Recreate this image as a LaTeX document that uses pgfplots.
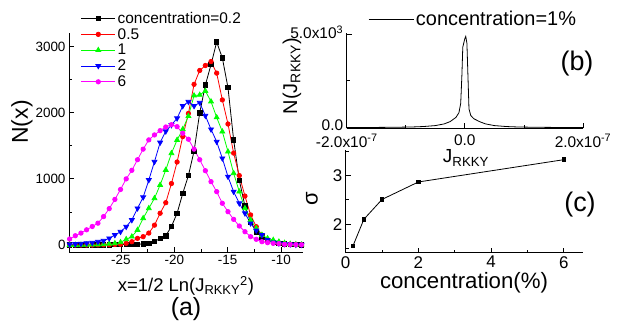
\documentclass[border=0pt]{standalone}
\usepackage{fontspec}
\setmainfont{Liberation Sans}
\usepackage{pgfplots}
\usepackage{pgfplotstable}
\pgfplotsset{compat=1.18}
\definecolor{cBlack}{RGB}{0,0,0}
\definecolor{cRed}{RGB}{255,0,0}
\definecolor{cGreen}{RGB}{0,255,0}
\definecolor{cBlue}{RGB}{0,0,255}
\definecolor{cMag}{RGB}{255,0,255}

\pgfplotstableread{
x c02 c05 c1 c2 c6
-29.81 0 0 0 10 90
-29.28 0 0 0 15 140
-28.75 0 0 2 20 180
-28.22 0 0 3 28 230
-27.69 0 0 5 35 280
-27.16 0 2 8 50 330
-26.63 2 3 10 65 430
-26.10 3 5 18 101 550
-25.57 5 8 25 151 690
-25.04 6 12 40 201 840
-24.51 8 25 86 277 1000
-23.98 10 50 126 378 1130
-23.45 12 100 227 555 1290
-22.92 15 126 404 722 1450
-22.39 25 180 555 983 1590
-21.86 50 300 706 1260 1665
-21.33 100 480 908 1550 1730
-20.80 140 640 1135 1720 1785
-20.27 280 930 1387 1815 1820
-19.74 480 1255 1588 1917 1790
-19.21 780 1640 1750 2103 1690
-18.68 1050 1990 1950 2168 1600
-18.15 1420 2430 2260 2103 1450
-17.62 2000 2640 2270 2153 1290
-17.09 2420 2715 2330 1956 1124
-16.56 2730 2775 2170 1750 958
-16.03 3070 2600 1930 1563 807
-15.50 2830 2195 1715 1311 631
-14.97 2380 1830 1412 1034 504
-14.44 1590 1390 1085 807 388
-13.91 980 1050 807 631 287
-13.38 590 740 555 480 201
-12.85 350 455 378 328 126
-12.32 200 277 252 220 86
-11.79 125 150 151 151 50
-11.26 70 80 100 75 35
-10.73 40 45 75 40 25
-10.20 25 25 50 25 20
-9.67 15 15 30 15 10
-9.14 10 10 15 10 8
-8.61 5 5 10 5 5
-8.08 3 3 5 3 3
}\dataA

% panel (b): x in units of 1e-7
\pgfplotstableread{
x n
-2.00 5
-1.60 10
-1.20 20
-0.90 35
-0.70 60
-0.50 110
-0.35 200
-0.25 320
-0.15 550
-0.10 800
-0.07 1300
-0.05 2800
-0.035 4300
0.00 4750
0.015 4870
0.035 4500
0.05 3000
0.07 1000
0.10 650
0.15 480
0.25 320
0.35 200
0.50 110
0.70 60
0.90 35
1.20 20
1.60 10
2.00 5
}\dataB

\pgfplotstableread{
x s
0.2 1.55
0.5 2.10
1.0 2.51
2.0 2.87
6.0 3.33
}\dataC

\pgfplotsset{
  every axis/.append style={
    scale only axis,
    axis x line*=bottom, axis y line*=left,
    tick align=inside,
    major tick length=5bp, minor tick length=3bp,
    axis line style={line width=0.8bp},
    every tick/.style={line width=0.8bp, black},
    /pgf/number format/assume math mode=true,
    /pgf/number format/1000 sep={},
  }
}
\newcommand{\fs}[1]{\fontsize{#1}{#1}\selectfont}

\begin{document}
\begin{tikzpicture}
\path[use as bounding box] (0bp,0bp) rectangle (620bp,322bp);

% ---------- (a)
\begin{axis}[at={(69bp,70bp)}, anchor=south west,
  width=234bp, height=219bp,
  xmin=-29.87, xmax=-7.94, ymin=-106, ymax=3207,
  xtick={-25,-20,-15,-10}, ytick={0,1000,2000,3000},
  minor x tick num=1, minor y tick num=1,
  tick label style={font=\fs{13.5}},
  legend style={at={(0.05,1.106)}, anchor=north west, draw=none, fill=none,
    font=\fs{15.5}, row sep=-0.4bp, inner sep=0pt, cells={anchor=west}},
  legend image code/.code={\draw[mark repeat=2,mark phase=2] plot coordinates {(0bp,0bp) (17bp,0bp) (34bp,0bp)};},
  every axis plot/.append style={line width=0.8bp},
]
\addplot[cBlack, mark=square*, mark size=2.2bp] table[x=x,y=c02] {\dataA};
\addlegendentry{concentration=0.2}
\addplot[cRed, mark=*, mark size=2.2bp] table[x=x,y=c05] {\dataA};
\addlegendentry{0.5}
\addplot[cGreen, mark=triangle*, mark size=2.8bp] table[x=x,y=c1] {\dataA};
\addlegendentry{1}
\addplot[cBlue, mark=triangle*, mark size=2.8bp, mark options={rotate=180}] table[x=x,y=c2] {\dataA};
\addlegendentry{2}
\addplot[cMag, mark=*, mark size=2.2bp] table[x=x,y=c6] {\dataA};
\addlegendentry{6}
\end{axis}

% ---------- (b)
\begin{axis}[at={(346.7bp,193.5bp)}, anchor=south west,
  width=236.3bp, height=95.5bp,
  xmin=-2, xmax=2, ymin=-45, ymax=5050,
  xtick={-2,0,2}, xticklabels={-2.0x10\textsuperscript{-7},0.0,2.0x10\textsuperscript{-7}},
  minor xtick={-1,1},
  ytick={0,5000}, yticklabels={0.0,5.0x10\textsuperscript{3}},
  minor ytick={2500},
  tick label style={font=\fs{15.5}},
  xticklabel style={yshift=-2.5bp},
  yticklabel style={yshift=2bp},
  legend style={at={(0.09,1.25)}, anchor=north west, draw=none, fill=none,
    font=\fs{20}, inner sep=0pt},
  legend image code/.code={\draw (0bp,0bp) -- (45bp,0bp);},
]
\addplot[black, line width=0.8bp] table[x=x,y=n] {\dataB};
\addlegendentry{concentration=1\%}
\end{axis}

% ---------- (c)
\begin{axis}[at={(345.7bp,69.3bp)}, anchor=south west,
  width=237bp, height=102.7bp,
  xmin=0, xmax=6.52, ymin=1.41, ymax=3.53,
  xtick={0,2,4,6}, minor x tick num=1,
  ytick={2,3}, minor ytick={1.5,2.5,3.5},
  tick label style={font=\fs{17}},
]
\addplot[black, line width=0.8bp, mark=square*, mark size=1.8bp] table[x=x,y=s] {\dataC};
\end{axis}

% ---------- labels
\node[anchor=base, font=\fs{18.5}] at (186bp,30.3bp) {x=1/2 Ln(J\textsubscript{RKKY}\textsuperscript{2})};
\node[anchor=base, font=\fs{25}] at (186bp,7bp) {(a)};
\node[rotate=90, font=\fs{23}] at (22bp,200bp) {N(x)};
\node[rotate=90, font=\fs{20}] at (292bp,246bp) {N(J\textsubscript{RKKY})};
\node[font=\fs{19}] at (466bp,164bp) {J\textsubscript{RKKY}};
\node[anchor=base, font=\fs{27}] at (577bp,251bp) {(b)};
\node[anchor=base, font=\fs{27}] at (580bp,110.3bp) {(c)};
\node[anchor=base, font=\fs{22.3}] at (464bp,34bp) {concentration(\%)};
\node[rotate=90, font=\fs{22}] at (312bp,123bp) {σ};
\end{tikzpicture}
\end{document}
